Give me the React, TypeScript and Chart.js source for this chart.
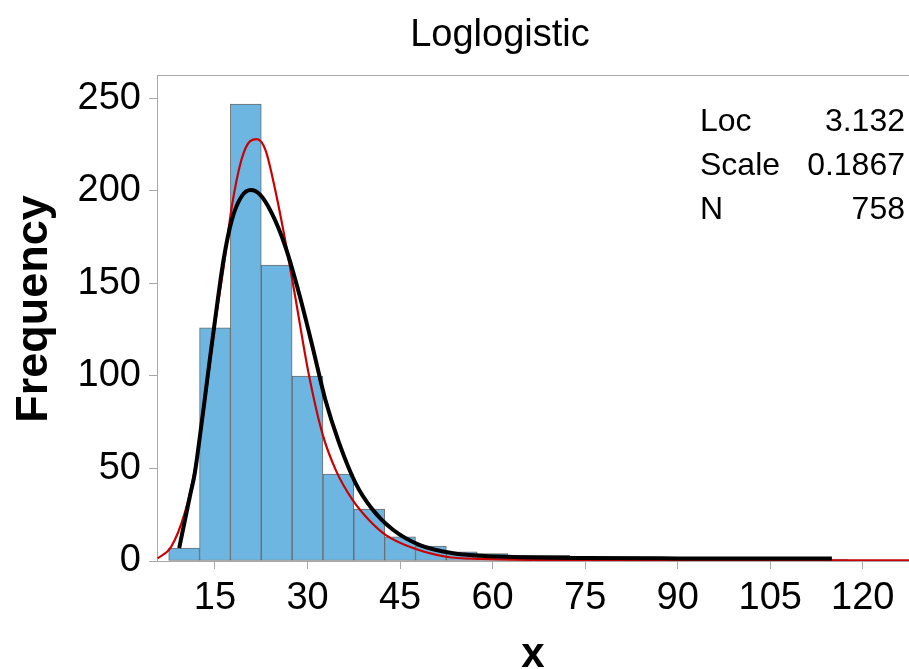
import { useEffect, useRef } from "react";
import { Chart, registerables } from "chart.js";

Chart.register(...registerables);

// Histogram bins (centre of each 5-wide bin) and their counts
const binCenters = [10, 15, 20, 25, 30, 35, 40, 45, 50, 55, 60, 65, 70, 75, 80, 85, 90, 95, 100, 105, 110, 115];
const binCounts = [7, 126, 247, 160, 100, 47, 28, 13, 8, 5, 4, 3, 3, 1, 1, 1, 0, 1, 1, 0, 1, 1];

// Black fitted curve
const blackX = [9.2, 10, 11, 11.7, 12.5, 13.4, 14.2, 15, 16.4, 17.7, 19.3, 20.8, 22.3, 24.2, 26.4, 28.6, 30.8, 32.9, 35.1, 37.8, 40.5, 43.8, 48.2, 53.6, 58.2, 65, 75, 90, 115];
const blackY = [7, 20, 36, 47, 66, 89, 110, 130, 163, 184, 197, 200.5, 198, 188, 170, 145, 116, 87, 64, 42, 28, 17, 8.6, 4.2, 2.8, 2, 1.6, 1.4, 1.3];

// Red curve
const redX = [5.7, 7.9, 10.1, 11.7, 13.4, 15, 16.4, 17.7, 19.3, 20.7, 21.8, 23.2, 24.8, 26.4, 28, 30.2, 32.4, 34.6, 37.3, 40, 42.7, 47.1, 52.5, 58.2, 70, 90, 127.5];
const redY = [1.4, 7.7, 26, 49, 87, 128, 159, 191, 217, 227, 228, 222, 200, 173, 143, 101, 69, 49, 33, 22, 14, 7, 2.3, 1.1, 0.5, 0.3, 0.3];

const xTicks = [15, 30, 45, 60, 75, 90, 105, 120];
const yTicks = [0, 50, 100, 150, 200, 250];

const titleText = "Loglogistic";
const xTitle = "x";
const yTitle = "Frequency";
const statLabels = ["Loc", "Scale", "N"];
const statValues = ["3.132", "0.1867", "758"];

const FONT = "'Liberation Sans', Arial, sans-serif";
const FRAME = "#a8a8a8";

export default function App() {
  const ref = useRef<HTMLCanvasElement | null>(null);

  useEffect(() => {
    document.body.style.margin = "0";
    const canvas = ref.current;
    if (!canvas) return;

    const overlay = {
      id: "overlay",
      afterDraw(chart: any) {
        const ctx = chart.ctx;
        const a = chart.chartArea;
        ctx.save();
        ctx.strokeStyle = FRAME;
        ctx.lineWidth = 1;
        ctx.beginPath();
        ctx.moveTo(a.left, a.top + 0.5);
        ctx.lineTo(a.right, a.top + 0.5);
        ctx.stroke();

        ctx.fillStyle = "#000";
        ctx.textBaseline = "alphabetic";
        ctx.font = `38px ${FONT}`;
        ctx.textAlign = "center";
        ctx.fillText(titleText, 500, 46);

        ctx.font = `bold 42px ${FONT}`;
        ctx.fillText(xTitle, (a.left + a.right) / 2, 667);

        ctx.save();
        ctx.font = `bold 45px ${FONT}`;
        ctx.translate(47, 309);
        ctx.rotate(-Math.PI / 2);
        ctx.textAlign = "center";
        ctx.fillText(yTitle, 0, 0);
        ctx.restore();

        ctx.font = `32px ${FONT}`;
        const baselines = [131, 175, 219];
        statLabels.forEach((l, i) => {
          ctx.textAlign = "left";
          ctx.fillText(l, 700, baselines[i]);
          ctx.textAlign = "right";
          ctx.fillText(statValues[i], 905, baselines[i]);
        });
        ctx.restore();
      },
    };

    const chart = new Chart(canvas, {
      type: "bar",
      data: {
        datasets: [
          {
            type: "line",
            data: blackX.map((x, i) => ({ x, y: blackY[i] })),
            borderColor: "#000000",
            borderWidth: 4,
            pointRadius: 0,
            fill: false,
            cubicInterpolationMode: "monotone",
            order: 1,
          } as any,
          {
            type: "line",
            data: redX.map((x, i) => ({ x, y: redY[i] })),
            borderColor: "#cc0000",
            borderWidth: 2.2,
            pointRadius: 0,
            fill: false,
            cubicInterpolationMode: "monotone",
            order: 2,
          } as any,
          {
            type: "bar",
            data: binCenters.map((x, i) => ({ x, y: binCounts[i] })),
            backgroundColor: "#6eb6e2",
            borderColor: "#6a6a6a",
            borderWidth: 1,
            borderSkipped: false,
            barPercentage: 1,
            categoryPercentage: 1,
            order: 3,
          } as any,
        ],
      },
      options: {
        animation: false,
        responsive: false,
        devicePixelRatio: 1,
        layout: { padding: { top: 75, left: 0, right: 0, bottom: 0 } },
        plugins: {
          legend: { display: false },
          tooltip: { enabled: false },
          title: { display: false },
        },
        scales: {
          x: {
            type: "linear",
            offset: false,
            min: 5.6,
            max: 127.5,
            afterBuildTicks: (s: any) => {
              s.ticks = xTicks.map((v) => ({ value: v }));
            },
            afterFit: (s: any) => {
              s.height = 108;
            },
            grid: { display: true, offset: false, drawOnChartArea: false, drawTicks: true, tickLength: 8, color: FRAME },
            border: { display: true, color: FRAME, width: 1 },
            ticks: {
              font: { family: FONT, size: 38 },
              color: "#000",
              padding: 7,
              maxRotation: 0,
              autoSkip: false,
            },
          },
          y: {
            type: "linear",
            min: 0,
            max: 262.7,
            afterBuildTicks: (s: any) => {
              s.ticks = yTicks.map((v) => ({ value: v }));
            },
            afterFit: (s: any) => {
              s.width = 157;
            },
            grid: { display: true, drawOnChartArea: false, drawTicks: true, tickLength: 8, color: FRAME },
            border: { display: true, color: FRAME, width: 1 },
            ticks: {
              font: { family: FONT, size: 38 },
              color: "#000",
              padding: 8,
              autoSkip: false,
            },
          },
        },
      } as any,
      plugins: [overlay],
    });

    return () => chart.destroy();
  }, []);

  return (
    <canvas
      ref={ref}
      width={909}
      height={669}
      style={{ display: "block", width: "909px", height: "669px" }}
    />
  );
}
